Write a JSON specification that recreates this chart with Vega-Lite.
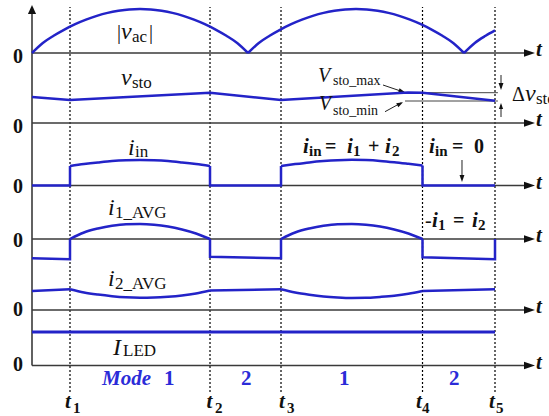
{
"$schema": "https://vega.github.io/schema/vega-lite/v6.json",
"width": 549, "height": 416, "autosize": {"type": "none"}, "padding": 0,
"background": "white",
"config": {"view": {"stroke": null}},
"datasets": {
"hax": [{"t":0,"t2":22.87,"y":363},{"t":0,"t2":22.87,"y":293},{"t":0,"t2":22.87,"y":230.5},{"t":0,"t2":22.87,"y":177},{"t":0,"t2":22.87,"y":106},{"t":0,"t2":22.87,"y":50.5}],
"haxHead": [{"t":23.287,"y":363},{"t":23.287,"y":293},{"t":23.287,"y":230.5},{"t":23.287,"y":177},{"t":23.287,"y":106},{"t":23.287,"y":50.5}],
"vax": [{"t":0,"y":50.5,"y2":404}],
"vaxHead": [{"t":0,"y":411}],
"tlines": [{"t":1.759,"y":24,"y2":409},{"t":8.241,"y":24,"y2":409},{"t":11.528,"y":24,"y2":409},{"t":18.079,"y":24,"y2":409},{"t":21.435,"y":24,"y2":409}],
"reflines": [{"t":17.27,"t2":21.57,"y":323.3},{"t":17.27,"t2":21.57,"y":315}],
"annLines": [{"t":16.25,"t2":17.2,"y":331,"y2":324},{"t":16.343,"t2":17.1,"y":304.3,"y2":313.3},{"t":21.713,"t2":21.713,"y":341,"y2":328},{"t":21.713,"t2":21.713,"y":299,"y2":311},{"t":19.907,"t2":19.907,"y":256,"y2":237}],
"headDown": [{"t":21.713,"y":326},{"t":19.907,"y":234}],
"headUp": [{"t":21.713,"y":313}],
"headD1": [{"t":17.269,"y":323.7}],
"headD2": [{"t":17.176,"y":313.7}],
"smooth": [
{"s":"vac1","t":0,"y":363},{"s":"vac1","t":0.5,"y":373},{"s":"vac1","t":1,"y":380.2},{"s":"vac1","t":1.5,"y":386.4},{"s":"vac1","t":2,"y":391.8},{"s":"vac1","t":2.5,"y":396.3},{"s":"vac1","t":3,"y":400.1},{"s":"vac1","t":3.5,"y":403.1},{"s":"vac1","t":4,"y":405.2},{"s":"vac1","t":4.5,"y":406.6},{"s":"vac1","t":5,"y":407},{"s":"vac1","t":5.5,"y":406.6},{"s":"vac1","t":6,"y":405.2},{"s":"vac1","t":6.5,"y":403.1},{"s":"vac1","t":7,"y":400.1},{"s":"vac1","t":7.5,"y":396.3},{"s":"vac1","t":8,"y":391.8},{"s":"vac1","t":8.5,"y":386.4},{"s":"vac1","t":9,"y":380.2},{"s":"vac1","t":9.5,"y":373},{"s":"vac1","t":10,"y":363},
{"s":"vac2","t":10,"y":363},{"s":"vac2","t":10.5,"y":373},{"s":"vac2","t":11,"y":380.2},{"s":"vac2","t":11.5,"y":386.4},{"s":"vac2","t":12,"y":391.8},{"s":"vac2","t":12.5,"y":396.3},{"s":"vac2","t":13,"y":400.1},{"s":"vac2","t":13.5,"y":403.1},{"s":"vac2","t":14,"y":405.2},{"s":"vac2","t":14.5,"y":406.6},{"s":"vac2","t":15,"y":407},{"s":"vac2","t":15.5,"y":406.6},{"s":"vac2","t":16,"y":405.2},{"s":"vac2","t":16.5,"y":403.1},{"s":"vac2","t":17,"y":400.1},{"s":"vac2","t":17.5,"y":396.3},{"s":"vac2","t":18,"y":391.8},{"s":"vac2","t":18.5,"y":386.4},{"s":"vac2","t":19,"y":380.2},{"s":"vac2","t":19.5,"y":373},{"s":"vac2","t":20,"y":363},
{"s":"vac3","t":20,"y":363},{"s":"vac3","t":20.5,"y":373},{"s":"vac3","t":21,"y":380.2},{"s":"vac3","t":21.435,"y":385.6},
{"s":"iin1","t":1.759,"y":250},{"s":"iin1","t":2.407,"y":251.9},{"s":"iin1","t":3.055,"y":253.5},{"s":"iin1","t":3.704,"y":254.9},{"s":"iin1","t":4.352,"y":255.7},{"s":"iin1","t":5.0,"y":256},{"s":"iin1","t":5.648,"y":255.7},{"s":"iin1","t":6.296,"y":254.9},{"s":"iin1","t":6.945,"y":253.5},{"s":"iin1","t":7.593,"y":251.9},{"s":"iin1","t":8.241,"y":250},
{"s":"iin2","t":11.528,"y":250},{"s":"iin2","t":12.183,"y":251.9},{"s":"iin2","t":12.838,"y":253.6},{"s":"iin2","t":13.493,"y":254.9},{"s":"iin2","t":14.148,"y":255.8},{"s":"iin2","t":14.804,"y":256.2},{"s":"iin2","t":15.459,"y":255.9},{"s":"iin2","t":16.114,"y":255.1},{"s":"iin2","t":16.769,"y":253.8},{"s":"iin2","t":17.424,"y":252.2},{"s":"iin2","t":18.079,"y":250.5},
{"s":"i1a","t":1.759,"y":177},{"s":"i1a","t":2.407,"y":183.5},{"s":"i1a","t":3.055,"y":187.5},{"s":"i1a","t":3.704,"y":190.3},{"s":"i1a","t":4.352,"y":191.8},{"s":"i1a","t":5.0,"y":192},{"s":"i1a","t":5.648,"y":191.3},{"s":"i1a","t":6.296,"y":189.5},{"s":"i1a","t":6.945,"y":186.5},{"s":"i1a","t":7.593,"y":182.5},{"s":"i1a","t":8.241,"y":177},
{"s":"i1b","t":11.528,"y":177},{"s":"i1b","t":12.183,"y":183.5},{"s":"i1b","t":12.838,"y":187.5},{"s":"i1b","t":13.493,"y":190.3},{"s":"i1b","t":14.148,"y":191.8},{"s":"i1b","t":14.804,"y":192},{"s":"i1b","t":15.459,"y":191.3},{"s":"i1b","t":16.114,"y":189.5},{"s":"i1b","t":16.769,"y":186.5},{"s":"i1b","t":17.424,"y":182.5},{"s":"i1b","t":18.079,"y":177},
{"s":"i2a","t":1.759,"y":126.7},{"s":"i2a","t":2.407,"y":123.5},{"s":"i2a","t":3.055,"y":121.4},{"s":"i2a","t":3.704,"y":119.8},{"s":"i2a","t":4.352,"y":118.7},{"s":"i2a","t":5.0,"y":118.3},{"s":"i2a","t":5.648,"y":118.5},{"s":"i2a","t":6.296,"y":119.3},{"s":"i2a","t":6.945,"y":120.6},{"s":"i2a","t":7.593,"y":122.6},{"s":"i2a","t":8.241,"y":125.5},
{"s":"i2b","t":11.528,"y":126.7},{"s":"i2b","t":12.183,"y":123.5},{"s":"i2b","t":12.838,"y":121.3},{"s":"i2b","t":13.493,"y":119.6},{"s":"i2b","t":14.148,"y":118.6},{"s":"i2b","t":14.804,"y":118.1},{"s":"i2b","t":15.459,"y":118.2},{"s":"i2b","t":16.114,"y":119.1},{"s":"i2b","t":16.769,"y":120.3},{"s":"i2b","t":17.424,"y":122.2},{"s":"i2b","t":18.079,"y":125.0}
],
"straight": [
{"s":"iina","t":0,"y":230.5},{"s":"iina","t":1.759,"y":230.5},{"s":"iina","t":1.759,"y":250},
{"s":"iinb","t":8.241,"y":250},{"s":"iinb","t":8.241,"y":230.5},{"s":"iinb","t":11.528,"y":230.5},{"s":"iinb","t":11.528,"y":250},
{"s":"iinc","t":18.079,"y":250.5},{"s":"iinc","t":18.079,"y":230.5},{"s":"iinc","t":21.435,"y":230.5},
{"s":"i1x","t":0,"y":157.7},{"s":"i1x","t":1.759,"y":156.7},{"s":"i1x","t":1.759,"y":177},
{"s":"i1y","t":8.241,"y":177},{"s":"i1y","t":8.241,"y":159.3},{"s":"i1y","t":11.528,"y":157.7},{"s":"i1y","t":11.528,"y":177},
{"s":"i1z","t":18.079,"y":177},{"s":"i1z","t":18.079,"y":158.7},{"s":"i1z","t":21.435,"y":156.7},{"s":"i1z","t":21.435,"y":177},
{"s":"i2x","t":0,"y":125},{"s":"i2x","t":1.759,"y":126.7},
{"s":"i2y","t":8.241,"y":125.5},{"s":"i2y","t":11.528,"y":126.7},
{"s":"i2z","t":18.079,"y":125},{"s":"i2z","t":21.435,"y":126.7},
{"s":"vsto","t":0,"y":319},{"s":"vsto","t":1.759,"y":316},{"s":"vsto","t":8.241,"y":323.3},{"s":"vsto","t":11.528,"y":316},{"s":"vsto","t":17.41,"y":323.5},{"s":"vsto","t":18.079,"y":323.3},{"s":"vsto","t":21.435,"y":315.3}
],
"iled": [{"s":"iled","t":0,"y":84},{"s":"iled","t":21.435,"y":84}],
"txItal24": [{"t":4.120,"y":377,"s":"v"},{"t":4.120,"y":331,"s":"v"},{"t":4.444,"y":261,"s":"i"},{"t":3.519,"y":201,"s":"i"},{"t":3.519,"y":130,"s":"i"},{"t":3.75,"y":61,"s":"I"},{"t":22.824,"y":315,"s":"v"}],
"txItal20": [{"t":13.241,"y":334,"s":"V"},{"t":13.287,"y":306,"s":"V"}],
"txReg": [{"t":3.935,"y":377,"s":"|"},{"t":5.417,"y":377,"s":"|"},{"t":22.222,"y":315,"s":"Δ"},{"t":18.194,"y":189,"s":"-"}],
"txSub17": [{"t":4.630,"y":374,"s":"ac"},{"t":4.630,"y":328,"s":"sto"},{"t":4.769,"y":259,"s":"in"},{"t":3.843,"y":198.5,"s":"1_AVG"},{"t":3.843,"y":127.5,"s":"2_AVG"},{"t":4.213,"y":60,"s":"LED"},{"t":23.333,"y":312,"s":"sto"}],
"txSub14": [{"t":13.935,"y":331.5,"s":"sto_max"},{"t":13.935,"y":301,"s":"sto_min"}],
"txBI": [{"t":12.546,"y":263,"s":"i"},{"t":14.583,"y":263,"s":"i"},{"t":16.343,"y":263,"s":"i"},{"t":18.380,"y":263,"s":"i"},{"t":18.519,"y":189,"s":"i"},{"t":20.370,"y":189,"s":"i"},{"t":1.528,"y":8,"s":"t"},{"t":8.079,"y":8,"s":"t"},{"t":11.435,"y":8,"s":"t"},{"t":17.778,"y":8,"s":"t"},{"t":21.157,"y":8,"s":"t"},{"t":23.333,"y":360,"s":"t"},{"t":23.333,"y":290,"s":"t"},{"t":23.333,"y":227.5,"s":"t"},{"t":23.333,"y":174,"s":"t"},{"t":23.333,"y":103,"s":"t"},{"t":23.333,"y":47.5,"s":"t"}],
"txBold": [{"t":13.565,"y":263,"s":"="},{"t":15.556,"y":263,"s":"+"},{"t":19.444,"y":263,"s":"="},{"t":20.463,"y":263,"s":"0"},{"t":19.491,"y":189,"s":"="},{"t":-0.88,"y":353,"s":"0"},{"t":-0.88,"y":283,"s":"0"},{"t":-0.88,"y":223,"s":"0"},{"t":-0.88,"y":169,"s":"0"},{"t":-0.88,"y":100,"s":"0"},{"t":-0.88,"y":45,"s":"0"}],
"txBSub": [{"t":12.824,"y":260,"s":"in"},{"t":14.861,"y":260,"s":"1"},{"t":16.667,"y":260,"s":"2"},{"t":18.657,"y":260,"s":"in"},{"t":18.796,"y":186.5,"s":"1"},{"t":20.648,"y":186.5,"s":"2"},{"t":1.898,"y":3,"s":"1"},{"t":8.472,"y":3,"s":"2"},{"t":11.806,"y":3,"s":"3"},{"t":18.056,"y":3,"s":"4"},{"t":21.481,"y":3,"s":"5"}],
"txModeI": [{"t":3.241,"y":31,"s":"Mode"}],
"txModeN": [{"t":6.111,"y":31,"s":"1"},{"t":9.676,"y":31,"s":"2"},{"t":14.213,"y":31,"s":"1"},{"t":19.306,"y":31,"s":"2"}]
},
"encoding": {
"x": {"field": "t", "type": "quantitative", "scale": {"domain": [-1.4815, 23.935], "nice": false, "zero": false}, "axis": null},
"y": {"field": "y", "type": "quantitative", "scale": {"domain": [0, 416], "nice": false, "zero": false}, "axis": null}
},
"layer": [
{"data": {"name": "tlines"}, "mark": {"type": "rule", "color": "#000", "strokeWidth": 1.2, "strokeDash": [2, 2]}, "encoding": {"y2": {"field": "y2"}}},
{"data": {"name": "hax"}, "mark": {"type": "rule", "color": "#3a3a3a", "strokeWidth": 1.6}, "encoding": {"x2": {"field": "t2"}}},
{"data": {"name": "vax"}, "mark": {"type": "rule", "color": "#3a3a3a", "strokeWidth": 1.6}, "encoding": {"y2": {"field": "y2"}}},
{"data": {"name": "haxHead"}, "mark": {"type": "point", "shape": "M0,0L-2,-0.7L-2,0.7Z", "size": 121, "filled": true, "color": "#111", "opacity": 1, "strokeWidth": 0}},
{"data": {"name": "vaxHead"}, "mark": {"type": "point", "shape": "M0,0L-0.9,2L0.9,2Z", "size": 81, "filled": true, "color": "#111", "opacity": 1, "strokeWidth": 0}},
{"data": {"name": "reflines"}, "mark": {"type": "rule", "color": "#444", "strokeWidth": 1}, "encoding": {"x2": {"field": "t2"}}},
{"data": {"name": "annLines"}, "mark": {"type": "rule", "color": "#222", "strokeWidth": 1}, "encoding": {"x2": {"field": "t2"}, "y2": {"field": "y2"}}},
{"data": {"name": "headDown"}, "mark": {"type": "point", "shape": "M0,0L-0.7,-2L0.7,-2Z", "size": 49, "filled": true, "color": "#111", "opacity": 1, "strokeWidth": 0}},
{"data": {"name": "headUp"}, "mark": {"type": "point", "shape": "M0,0L-0.7,2L0.7,2Z", "size": 36, "filled": true, "color": "#111", "opacity": 1, "strokeWidth": 0}},
{"data": {"name": "headD1"}, "mark": {"type": "point", "shape": "M0,0L-2,-0.7L-2,0.7Z", "size": 42, "angle": 18, "filled": true, "color": "#111", "opacity": 1, "strokeWidth": 0}},
{"data": {"name": "headD2"}, "mark": {"type": "point", "shape": "M0,0L-2,-0.7L-2,0.7Z", "size": 42, "angle": -28, "filled": true, "color": "#111", "opacity": 1, "strokeWidth": 0}},
{"data": {"name": "straight"}, "mark": {"type": "line", "color": "#2323c8", "strokeWidth": 2.5, "strokeJoin": "miter"}, "encoding": {"detail": {"field": "s"}, "order": {"value": null}}},
{"data": {"name": "smooth"}, "mark": {"type": "line", "color": "#2323c8", "strokeWidth": 2.5, "interpolate": "monotone"}, "encoding": {"detail": {"field": "s"}}},
{"data": {"name": "iled"}, "mark": {"type": "line", "color": "#2323c8", "strokeWidth": 2.8}, "encoding": {"detail": {"field": "s"}}},
{"data": {"name": "txItal24"}, "mark": {"type": "text", "align": "left", "baseline": "alphabetic", "font": "Liberation Serif", "fontSize": 24, "fontStyle": "italic", "color": "#111"}, "encoding": {"text": {"field": "s"}}},
{"data": {"name": "txItal20"}, "mark": {"type": "text", "align": "left", "baseline": "alphabetic", "font": "Liberation Serif", "fontSize": 20, "fontStyle": "italic", "color": "#111"}, "encoding": {"text": {"field": "s"}}},
{"data": {"name": "txReg"}, "mark": {"type": "text", "align": "left", "baseline": "alphabetic", "font": "Liberation Serif", "fontSize": 20, "color": "#111"}, "encoding": {"text": {"field": "s"}}},
{"data": {"name": "txSub17"}, "mark": {"type": "text", "align": "left", "baseline": "alphabetic", "font": "Liberation Serif", "fontSize": 17, "color": "#111"}, "encoding": {"text": {"field": "s"}}},
{"data": {"name": "txSub14"}, "mark": {"type": "text", "align": "left", "baseline": "alphabetic", "font": "Liberation Serif", "fontSize": 14, "color": "#111"}, "encoding": {"text": {"field": "s"}}},
{"data": {"name": "txBI"}, "mark": {"type": "text", "align": "left", "baseline": "alphabetic", "font": "Liberation Serif", "fontSize": 21, "fontStyle": "italic", "fontWeight": "bold", "color": "#111"}, "encoding": {"text": {"field": "s"}}},
{"data": {"name": "txBold"}, "mark": {"type": "text", "align": "left", "baseline": "alphabetic", "font": "Liberation Serif", "fontSize": 20, "fontWeight": "bold", "color": "#111"}, "encoding": {"text": {"field": "s"}}},
{"data": {"name": "txBSub"}, "mark": {"type": "text", "align": "left", "baseline": "alphabetic", "font": "Liberation Serif", "fontSize": 15, "fontWeight": "bold", "color": "#111"}, "encoding": {"text": {"field": "s"}}},
{"data": {"name": "txModeI"}, "mark": {"type": "text", "align": "left", "baseline": "alphabetic", "font": "Liberation Serif", "fontSize": 21, "fontStyle": "italic", "fontWeight": "bold", "color": "#2b2bd8"}, "encoding": {"text": {"field": "s"}}},
{"data": {"name": "txModeN"}, "mark": {"type": "text", "align": "left", "baseline": "alphabetic", "font": "Liberation Serif", "fontSize": 21, "fontWeight": "bold", "color": "#2b2bd8"}, "encoding": {"text": {"field": "s"}}}
]
}
